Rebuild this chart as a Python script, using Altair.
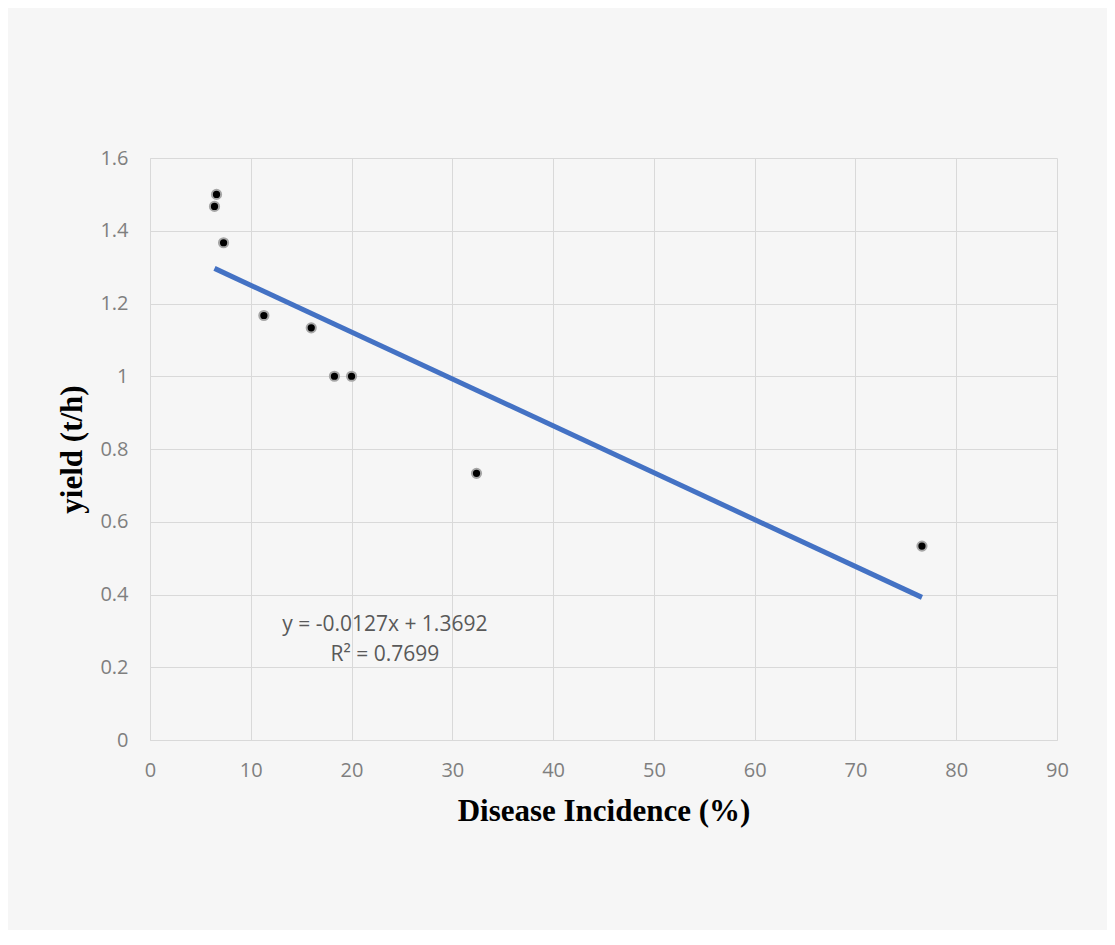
import altair as alt
import pandas as pd

incidence = [6.4, 6.6, 7.3, 11.3, 16.0, 18.3, 20.0, 32.4, 76.6]
yield_th = [1.467, 1.5, 1.367, 1.167, 1.133, 1.0, 1.0, 0.733, 0.533]
eq_text = ["y = -0.0127x + 1.3692", "R² = 0.7699"]
eq_x = [23.3, 23.3]
eq_y = [0.316, 0.234]

df = pd.DataFrame({"x": incidence, "y": yield_th})
eq = pd.DataFrame({"x": eq_x, "y": eq_y, "t": eq_text})

xs = alt.Scale(domain=[0, 90], nice=False)
ys = alt.Scale(domain=[0, 1.6], nice=False)

base = alt.Chart(df)

trend = base.transform_regression("x", "y", method="linear").mark_line(
    color="#4472C4", strokeWidth=5
).encode(
    x=alt.X("x:Q", scale=xs,
            axis=alt.Axis(title="Disease Incidence (%)", values=list(range(0, 100, 10)),
                          grid=True, gridColor="#d9d9d9", domainColor="#d9d9d9",
                          ticks=False, labelFont="Open Sans", labelFontSize=20,
                          labelColor="#7f7f7f", labelPadding=20, labelFlush=False,
                          titleFont="Liberation Serif", titleFontSize=31,
                          titleFontWeight="bold", titleColor="#000000", titlePadding=16)),
    y=alt.Y("y:Q", scale=ys,
            axis=alt.Axis(title="yield (t/h)", values=[0, 0.2, 0.4, 0.6, 0.8, 1, 1.2, 1.4, 1.6],
                          format="~g",
                          grid=True, gridColor="#d9d9d9", domainColor="#d9d9d9",
                          ticks=False, labelFont="Open Sans", labelFontSize=20,
                          labelColor="#7f7f7f", labelPadding=22, labelFlush=False,
                          titleFont="Liberation Serif", titleFontSize=31,
                          titleFontWeight="bold", titleColor="#000000", titlePadding=11)),
)

points = base.mark_point(
    filled=True, fill="#000000", stroke="#a6a6a6", strokeWidth=2, size=85, opacity=1
).encode(x=alt.X("x:Q", scale=xs), y=alt.Y("y:Q", scale=ys))

labels = alt.Chart(eq).mark_text(
    font="Open Sans", fontSize=21, color="#595959", align="center", baseline="middle"
).encode(x=alt.X("x:Q", scale=xs), y=alt.Y("y:Q", scale=ys), text="t:N")

chart = alt.layer(trend, points, labels).properties(
    width=907, height=582,
    autosize=alt.AutoSizeParams(type="none"),
    padding={"left": 142, "top": 150, "right": 50, "bottom": 190},
    background="#f6f6f6",
).configure_view(stroke=None)

chart.save("out.html", embed_options={"renderer": "svg", "actions": False})
